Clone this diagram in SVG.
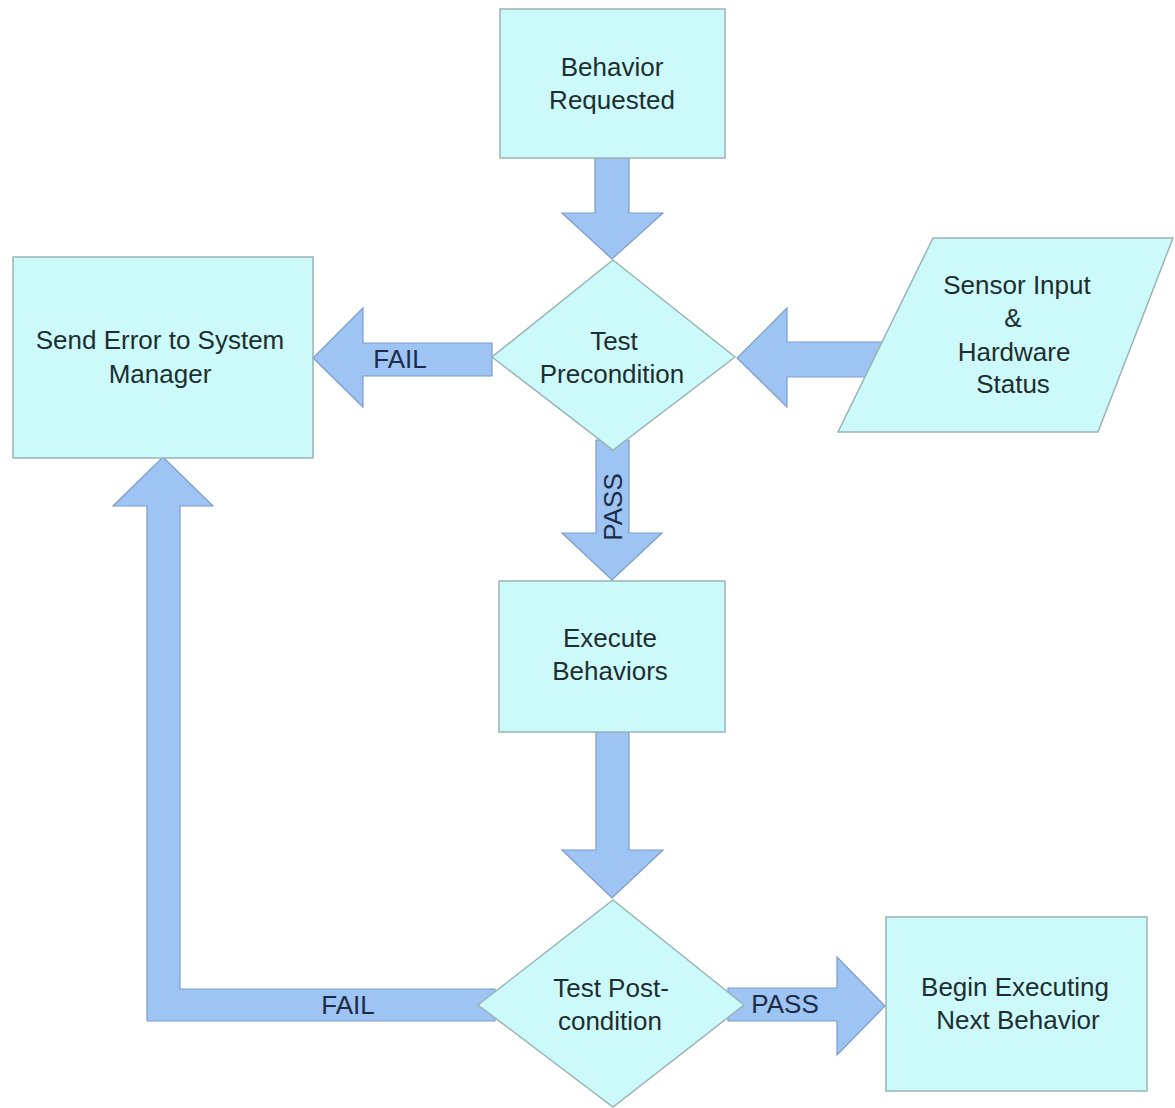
<svg xmlns="http://www.w3.org/2000/svg" width="1175" height="1108" viewBox="0 0 1175 1108">
<style>
.node{fill:#ccfafa;stroke:#9ab4b4;stroke-width:1.5}
.arrow{fill:#9dc4f2;stroke:#7c9ccc;stroke-width:1.2;stroke-linejoin:miter}
.t{font-family:"Liberation Sans",Arial,sans-serif;font-size:26px;fill:#1e2e30;text-anchor:middle}
.lbl{font-family:"Liberation Sans",Arial,sans-serif;font-size:26px;fill:#1c2c48;text-anchor:middle}
</style>
<rect width="1175" height="1108" fill="#ffffff"/>
<g id="connectors">
  <polygon class="arrow" points="595,158 629,158 629,213 663,213 612,259 562,213 595,213"/>
  <polygon class="arrow" points="492,343 363,343 363,308 313,358 363,407 363,376 492,376"/>
  <text class="lbl" x="400" y="368">FAIL</text>
  <polygon class="arrow" points="885,342 787,342 787,308 737,358 787,407 787,377 885,377"/>
  <polygon class="arrow" points="596,440 629,440 629,533 662,533 612,580 562,533 596,533"/>
  <text class="lbl" transform="translate(622,507) rotate(-90)" x="0" y="0">PASS</text>
  <polygon class="arrow" points="596,732 629,732 629,850 663,850 612,898 562,850 596,850"/>
  <polygon class="arrow" points="147,1021 147,506 113,506 163,457 213,506 180,506 180,989 495,989 495,1021"/>
  <text class="lbl" x="348" y="1014">FAIL</text>
  <polygon class="arrow" points="728,988 837,988 837,957 885,1006 837,1055 837,1021 728,1021"/>
</g>
<g id="behavior-requested">
  <rect class="node" x="500" y="9" width="225" height="149"/>
  <text class="t" x="612" y="76">Behavior</text>
  <text class="t" x="612" y="109">Requested</text>
</g>
<g id="send-error">
  <rect class="node" x="13" y="257" width="300" height="201"/>
  <text class="t" x="160" y="349">Send Error to System</text>
  <text class="t" x="160" y="383">Manager</text>
</g>
<g id="test-precondition">
  <polygon class="node" points="613,260 735,357 613,450 492,357"/>
  <text class="t" x="614" y="350">Test</text>
  <text class="t" x="612" y="383">Precondition</text>
</g>
<g id="sensor-input">
  <polygon class="node" points="933,238 1173,238 1098,432 838,432"/>
  <text class="t" x="1017" y="294">Sensor Input</text>
  <text class="t" x="1013" y="327">&amp;</text>
  <text class="t" x="1014" y="361">Hardware</text>
  <text class="t" x="1013" y="393">Status</text>
</g>
<g id="execute-behaviors">
  <rect class="node" x="499" y="581" width="226" height="151"/>
  <text class="t" x="610" y="647">Execute</text>
  <text class="t" x="610" y="680">Behaviors</text>
</g>
<g id="test-postcondition">
  <polygon class="node" points="613,900 744,1005 613,1107 478,1005"/>
  <text class="t" x="611" y="997">Test Post-</text>
  <text class="t" x="610" y="1030">condition</text>
</g>
<g id="begin-next">
  <rect class="node" x="886" y="917" width="261" height="174"/>
  <text class="t" x="1015" y="996">Begin Executing</text>
  <text class="t" x="1018" y="1029">Next Behavior</text>
</g>
<g id="pass-label">
  <text class="lbl" x="785" y="1013">PASS</text>
</g>
</svg>
